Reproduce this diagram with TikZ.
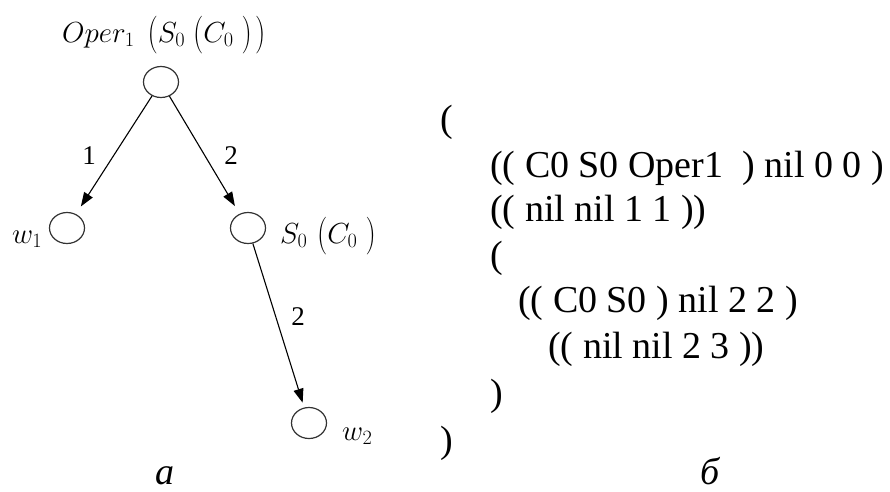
\RequirePackage{fix-cm}
\documentclass[tikz,border=0pt]{standalone}
\usepackage{graphicx}
\usepackage{fontspec}
\setmainfont{Liberation Serif}
\usetikzlibrary{arrows.meta,shapes.geometric}
\newcommand\myLP{\mathopen{\vcenter{\hbox{\scalebox{1}[1.3]{$\bigl($}}}}}
\newcommand\myRP{\mathclose{\vcenter{\hbox{\scalebox{1}[1.3]{$\bigr)$}}}}}
\begin{document}
\begin{tikzpicture}[x=1pt,y=-1pt,
  vtx/.style={draw=black!80, line width=1.2pt, ellipse, minimum width=35pt, minimum height=31pt, inner sep=0pt},
  edge/.style={-{Triangle[length=14pt,width=10pt]}, line width=1.1pt, shorten >=9pt},
  lbl/.style={font=\fontsize{27}{32}\selectfont, inner sep=0pt},
  mlab/.style={font=\fontsize{29}{36}\selectfont, inner sep=0pt, anchor=base west},
  code/.style={font=\fontsize{38}{45}\selectfont, inner sep=0pt, anchor=base west},
  captext/.style={font=\fontsize{38}{40}\selectfont\itshape, inner sep=0pt, anchor=base west}]
\useasboundingbox (0,0) rectangle (890,491);
% tree
\node[vtx] (r) at (161,82) {};
\node[vtx] (w1) at (67,228) {};
\node[vtx] (s0) at (248,228) {};
\node[vtx] (w2) at (309,423) {};
\draw[edge] (r) -- (w1);
\draw[edge] (r) -- (s0);
\draw[edge, shorten >=5pt] (s0) -- (w2);
\node[lbl] (e1) at (89,156) {1};
\node[lbl] (e2) at (231,156) {2};
\node[lbl] (e3) at (298,317) {2};
\node[mlab] (tr) at (62,42) {$Oper_1\mkern8mu\myLP S_0\mkern5mu\myLP C_0\mkern5mu\myRP\mkern2mu\myRP$};
\node[mlab] (tw1) at (12,243) {$w_1$};
\node[mlab] (ts0) at (280,243) {$S_0\mkern6mu\myLP C_0\mkern5mu\myRP$};
\node[mlab] (tw2) at (342,440) {$w_2$};
% list
\node[code] (l0) at (440,131) {(};
\node[code] (l1) at (490,177) {(( C0 S0 Oper1\ \ ) nil 0 0 )};
\node[code] (l2) at (490,221) {(( nil nil 1 1 ))};
\node[code] (l3) at (490,267) {(};
\node[code] (l4) at (518,312) {(( C0 S0 ) nil 2 2 )};
\node[code] (l5) at (548,358) {(( nil nil 2 3 ))};
\node[code] (l6) at (490,405) {)};
\node[code] (l7) at (440,452) {)};
% captions
\node[captext] (ca) at (155,484) {а};
\node[captext] (cb) at (700,484) {б};
\end{tikzpicture}
\end{document}
